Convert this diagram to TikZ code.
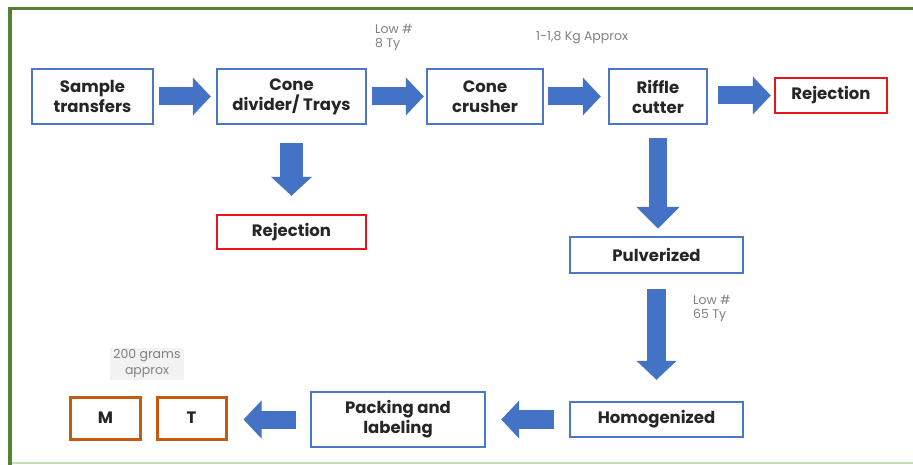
\documentclass[tikz,border=0pt]{standalone}
\usepackage{fontspec}
\setmainfont{Poppins}
\usetikzlibrary{arrows.meta,calc}
\definecolor{boxblue}{HTML}{4A78C6}
\definecolor{arrblue}{HTML}{4472C4}
\definecolor{rejred}{HTML}{E8141B}
\definecolor{orng}{HTML}{C55A11}
\definecolor{frgreen}{HTML}{548235}
\definecolor{lgreen}{HTML}{C5E0B4}
\definecolor{notegray}{HTML}{808080}
\tikzset{
  procbox/.style={draw=boxblue, line width=2.4pt, fill=white, inner sep=0pt, align=center,
    font=\fontsize{16.5}{20}\selectfont\bfseries, text=black!85},
  rejbox/.style={procbox, draw=rejred},
  outbox/.style={procbox, draw=orng, line width=3pt},
  notetext/.style={font=\fontsize{12.5}{14}\selectfont, text=notegray, align=left, inner sep=0pt},
  harrow/.style={draw=arrblue, line width=18pt, -{Triangle[width=37pt,length=18pt]}, arrblue},
  varrow/.style={draw=arrblue, line width=20pt, -{Triangle[width=40pt,length=20pt]}, arrblue},
}
\begin{document}
\begin{tikzpicture}[x=1pt,y=-1pt]
\useasboundingbox (0,0) rectangle (913,465);
\fill[white] (0,0) rectangle (913,465);
% frame
\draw[lgreen, line width=1.5pt] (12,463) -- (913,463);
\draw[frgreen, line width=3pt] (8,8.5) -- (913,8.5);
\draw[frgreen, line width=4pt] (10,7) -- (10,465);

% nodes (centres in pixel coordinates)
\node[procbox, minimum width=121pt, minimum height=55pt] (st) at (92.5,96.5) {Sample\\transfers};
\node[procbox, minimum width=149pt, minimum height=55pt] (cd) at (291.5,96.5) {Cone\\divider/ Trays};
\node[procbox, minimum width=116pt, minimum height=55pt] (cc) at (485,96.5) {Cone\\crusher};
\node[procbox, minimum width=98pt, minimum height=55pt] (rc) at (658,96.5) {Riffle\\cutter};
\node[rejbox, minimum width=112pt, minimum height=35pt] (rj1) at (831,95.5) {Rejection};
\node[rejbox, minimum width=149pt, minimum height=34pt] (rj2) at (291.5,232) {Rejection};
\node[procbox, minimum width=173pt, minimum height=36pt] (pv) at (656.5,255) {Pulverized};
\node[procbox, minimum width=173pt, minimum height=35pt] (hg) at (656.5,419.5) {Homogenized};
\node[procbox, minimum width=174pt, minimum height=55pt] (pk) at (398,419.5) {Packing and\\labeling};
\node[outbox, minimum width=70pt, minimum height=42pt] (m) at (105.5,418) {M};
\node[outbox, minimum width=69pt, minimum height=42pt] (t) at (191.5,418) {T};

% notes
\node[notetext, anchor=north west] (n1) at (375,24) {Low \#\\8 Ty};
\node[notetext, anchor=west] (n2) at (536,38) {1-1,8 Kg Approx};
\node[notetext, anchor=north west] (n3) at (693,295) {Low \#\\65 Ty};
\node[notetext, font=\fontsize{12.5}{16}\selectfont, fill=black!5, align=center, inner xsep=3pt, inner ysep=2pt, anchor=center] (n4) at (147,364) {200 grams\\approx};

% block arrows
\draw[harrow, shorten <=5pt, shorten >=5pt] (st.east) -- (cd.west);
\draw[harrow, shorten <=5pt, shorten >=2pt] (cd.east) -- (cc.west);
\draw[harrow, shorten <=4pt, shorten >=7pt] (cc.east) -- (rc.west);
\draw[harrow, shorten <=10pt, shorten >=3pt] (rc.east |- rj1.west) -- (rj1.west);
\draw[varrow, line width=23pt, -{Triangle[width=40pt,length=19pt]}, shorten <=18pt, shorten >=18pt] (cd.south) -- (rj2.north);
\draw[varrow, line width=18pt, -{Triangle[width=42pt,length=22pt]}, shorten <=13pt, shorten >=7pt] (rc.south) -- (rc.south |- pv.north);
\draw[varrow, line width=19pt, -{Triangle[width=39pt,length=19pt]}, shorten <=15pt, shorten >=21pt] (pv.south) -- (hg.north);
\draw[harrow, line width=19pt, shorten <=15pt, shorten >=15pt] (hg.west) -- (pk.east);
\draw[harrow, shorten <=14pt, shorten >=16pt] (pk.west) -- (pk.west -| t.east);
\end{tikzpicture}
\end{document}
